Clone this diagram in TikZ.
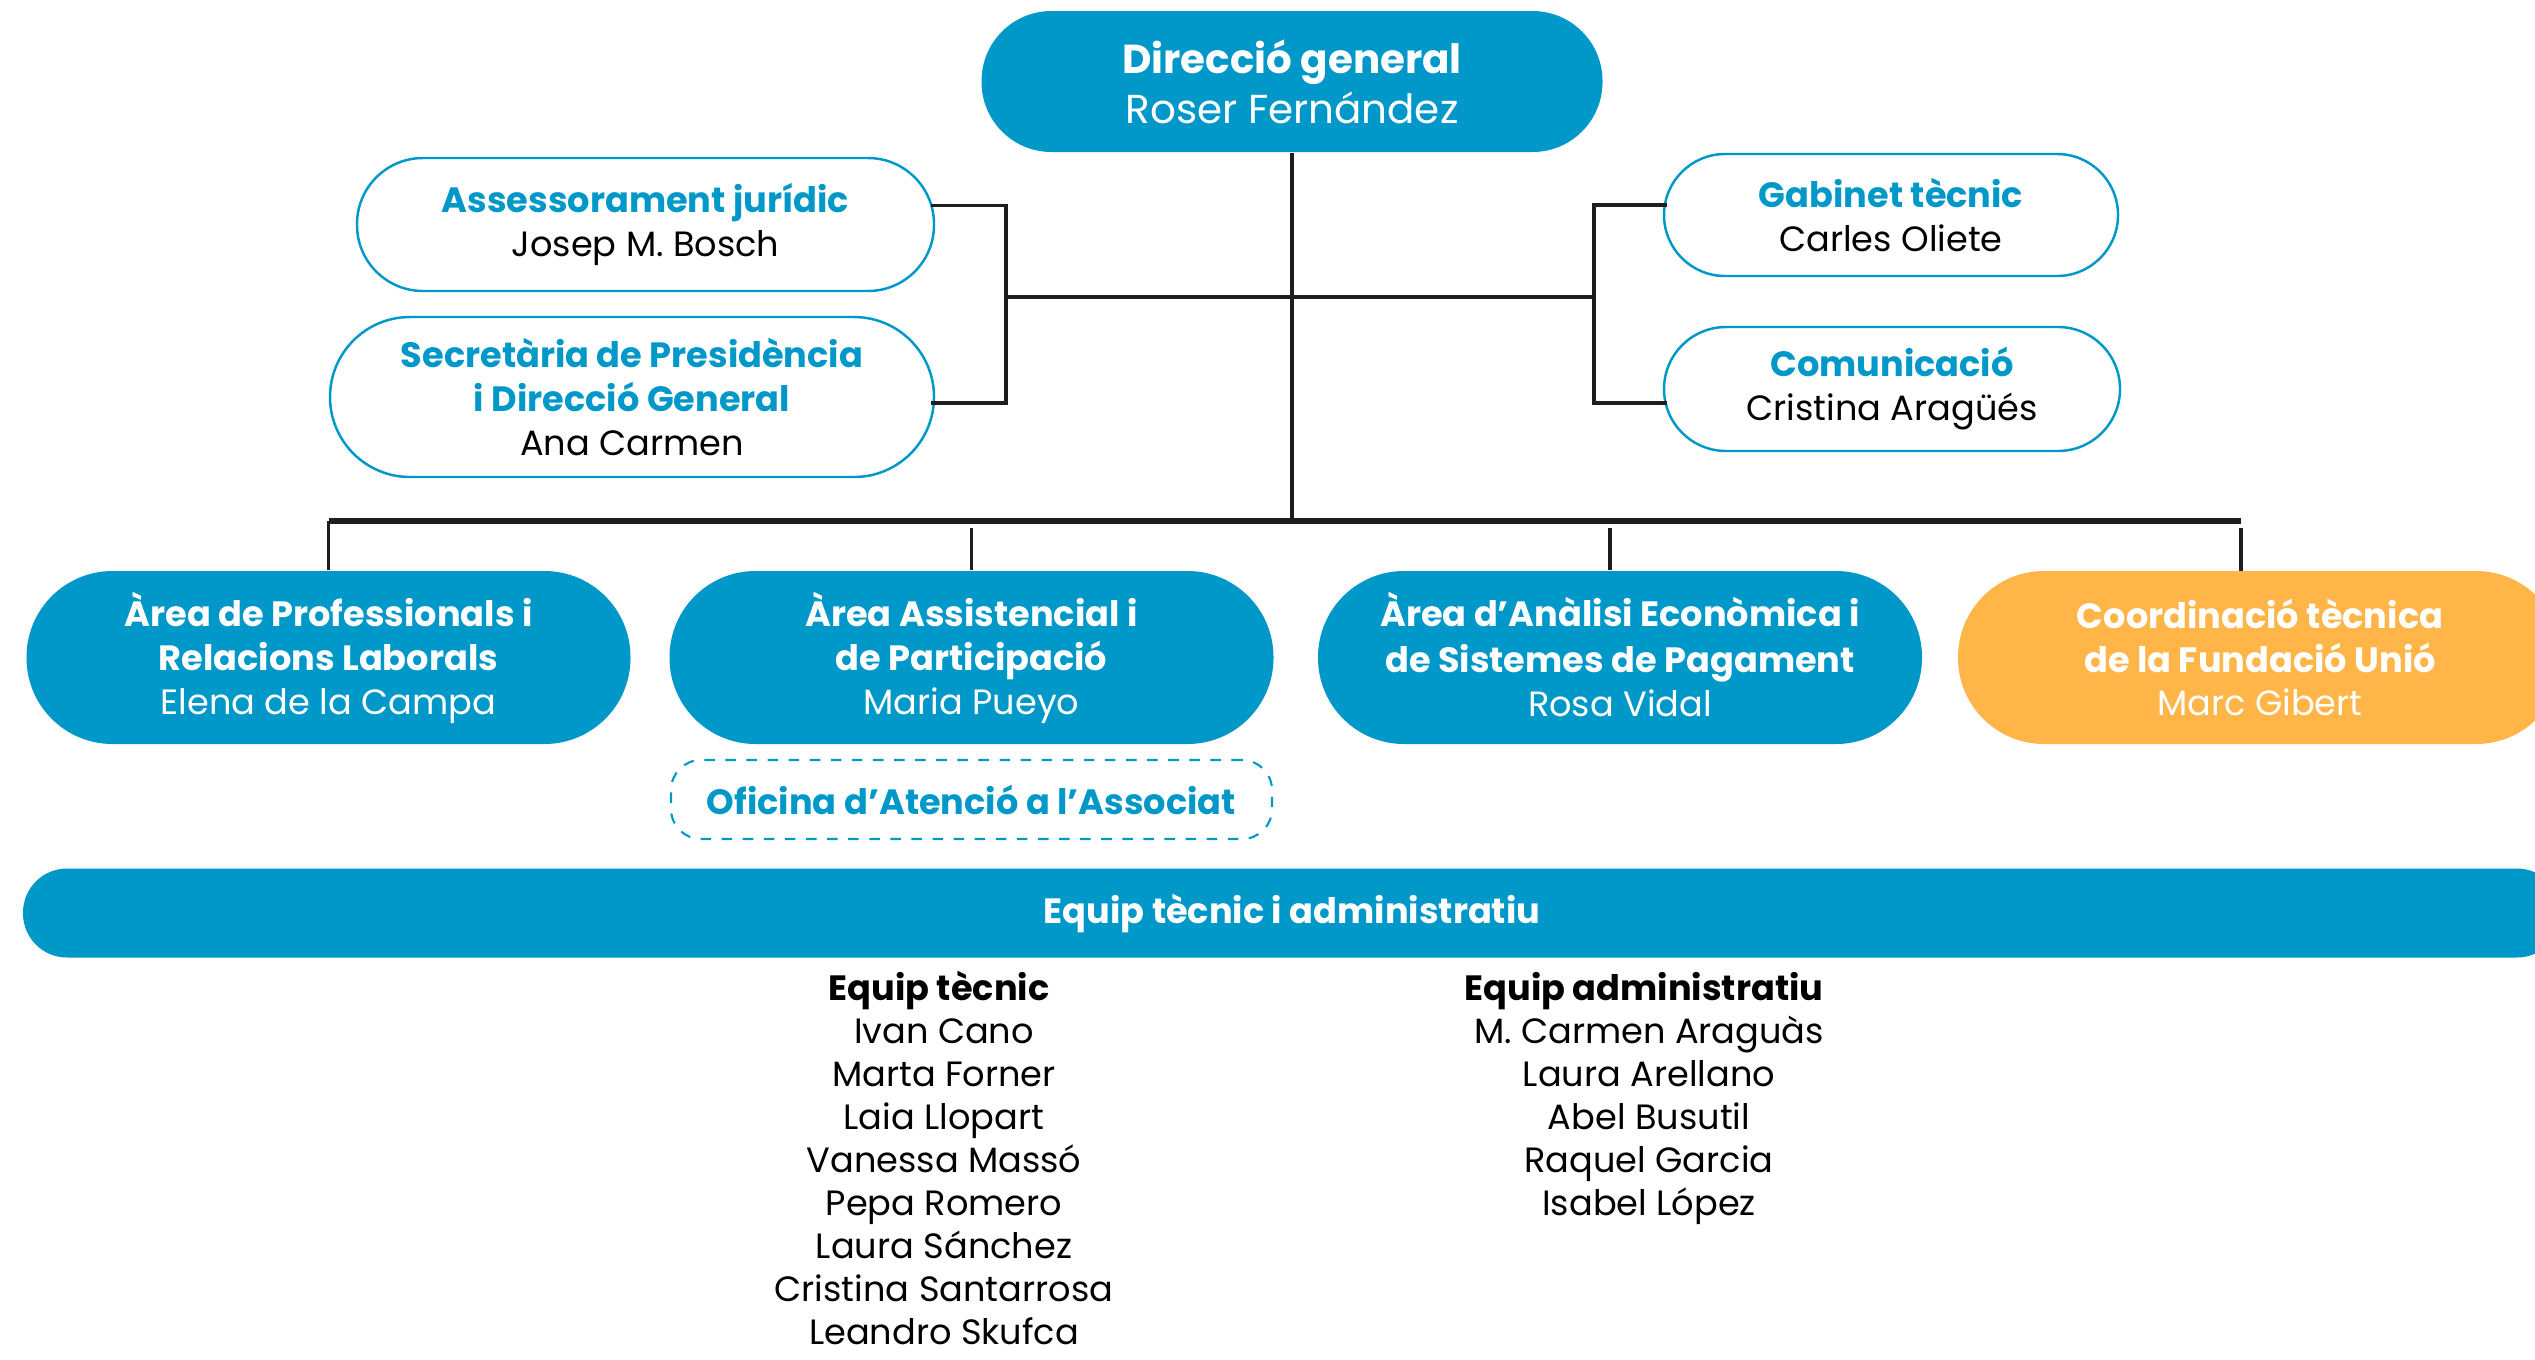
\documentclass[tikz,border=0pt]{standalone}
\usepackage{fontspec}
\setmainfont{Poppins}
\usetikzlibrary{positioning}
\definecolor{uniblue}{RGB}{0,151,201}
\definecolor{uniorange}{RGB}{255,181,72}
\definecolor{linegray}{RGB}{30,30,30}
\newcommand{\sidetitle}[1]{{\bfseries\color{uniblue}#1}}
\newcommand{\areatitle}[1]{{\bfseries #1}}
\tikzset{
  txt/.style={align=center, inner sep=0pt, font=\fontsize{10}{12.5}\selectfont},
  head/.style={txt, fill=uniblue, text=white, rounded corners=0.7cm,
    minimum width=6.21cm, minimum height=1.41cm, font=\fontsize{11.5}{14.2}\selectfont},
  side/.style={txt, draw=uniblue, line width=0.7pt, fill=white, rounded corners=#1},
  area/.style={txt, fill=uniblue, text=white, rounded corners=0.86cm,
    minimum width=6.04cm, minimum height=1.73cm},
  fund/.style={area, fill=uniorange},
  office/.style={txt, draw=uniblue, dashed, line width=0.6pt, rounded corners=0.3cm,
    text=uniblue, minimum width=6.01cm, minimum height=0.79cm, font=\fontsize{10}{12.5}\selectfont\bfseries},
  band/.style={txt, fill=uniblue, text=white, rounded corners=0.44cm,
    minimum width=25.38cm, minimum height=0.89cm, font=\fontsize{10}{12.5}\selectfont\bfseries},
  member/.style={anchor=base, inner sep=0pt, font=\fontsize{10}{12.5}\selectfont},
  memhead/.style={member, font=\fontsize{10}{12.5}\selectfont\bfseries},
  conn/.style={draw=linegray, line width=1.1pt},
  bus/.style={draw=linegray, line width=1.6pt},
  drop/.style={draw=linegray, line width=1pt}
}
\begin{document}
\begin{tikzpicture}
\useasboundingbox (0,0) rectangle (25.35,-13.59);

% direccio i staff
\node[head] (dg) at (12.92,-0.815) {\areatitle{Direcció general}\\Roser Fernández};
\node[side=0.66cm, minimum width=5.77cm, minimum height=1.33cm] (aj) at (6.455,-2.245)
  {\sidetitle{Assessorament jurídic}\\Josep M. Bosch};
\node[side=0.8cm, minimum width=6.04cm, minimum height=1.60cm] (sp) at (6.32,-3.97)
  {\sidetitle{Secretària de Presidència}\\\sidetitle{i Direcció General}\\Ana Carmen};
\node[side=0.61cm, minimum width=4.54cm, minimum height=1.22cm] (gt) at (18.91,-2.15)
  {\sidetitle{Gabinet tècnic}\\Carles Oliete};
\node[side=0.62cm, minimum width=4.56cm, minimum height=1.24cm] (com) at (18.92,-3.89)
  {\sidetitle{Comunicació}\\Cristina Aragüés};

% arees
\node[area] (a1) at (3.285,-6.575) {\areatitle{Àrea de Professionals i}\\\areatitle{Relacions Laborals}\\Elena de la Campa};
\node[area] (a2) at (9.715,-6.575) {\areatitle{Àrea Assistencial i}\\\areatitle{de Participació}\\Maria Pueyo};
\node[area] (a3) at (16.2,-6.575) {\raisebox{0.6pt}{\areatitle{Àrea d’Anàlisi Econòmica i}}\\\areatitle{de Sistemes de Pagament}\\Rosa Vidal\vspace{1.5pt}};
\node[fund] (a4) at (22.6,-6.575) {\areatitle{Coordinació tècnica}\\\areatitle{de la Fundació Unió}\\Marc Gibert};
\node[office] (oaa) at (9.715,-7.995) {Oficina d’Atenció a l’Associat};

% equip
\node[band] (eq) at (12.92,-9.13) {Equip tècnic i administratiu};
\node[memhead] (tec) at (9.39,-10.0) {Equip tècnic};
\foreach \who [count=\i] in {Ivan Cano, Marta Forner, Laia Llopart, Vanessa Massó,
    Pepa Romero, Laura Sánchez, Cristina Santarrosa, Leandro Skufca}
  \node[member] (tec\i) at (9.44,-10.0-0.43*\i) {\who};
\node[memhead] (adm) at (16.44,-10.0) {Equip administratiu};
\foreach \who [count=\i] in {M. Carmen Araguàs, Laura Arellano, Abel Busutil,
    Raquel Garcia, Isabel López}
  \node[member] (adm\i) at (16.49,-10.0-0.43*\i) {\who};

% connexions
\coordinate (lbr) at (10.06,-2.97);
\coordinate (rbr) at (15.94,-2.97);
\coordinate (busl) at (3.285,-5.21);
\coordinate (busr) at (22.41,-5.21);
\coordinate (a4top) at (22.41,-5.71);
\draw[conn] (dg.south) -- (dg.south |- busl);
\draw[conn] (lbr) -- (rbr);
\draw[conn] ([shift={(-0.04,0.19)}]aj.east) -| (lbr) |- ([shift={(-0.04,-0.06)}]sp.east);
\draw[conn] ([shift={(0.04,0.10)}]gt.west) -| (rbr) |- ([shift={(0.04,-0.14)}]com.west);
\draw[bus] (busl) -- (busr);
\draw[drop] (a1.north) -- (busl);
\draw[drop] (a2.north) -- ([yshift=-0.07cm]a2.north |- busl);
\draw[drop] (a3.north -| 16.1,0) -- ([yshift=-0.07cm]16.1,-5.21);
\draw[drop] (a4top) -- ([yshift=-0.07cm]busr);
\end{tikzpicture}
\end{document}
